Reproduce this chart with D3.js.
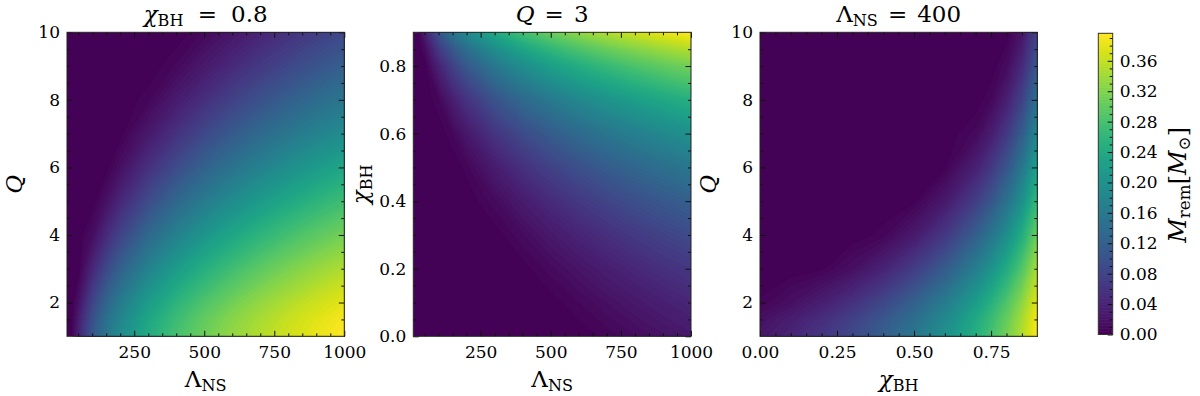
<!DOCTYPE html>
<html>
<head>
<meta charset="utf-8">
<script src="https://cdn.jsdelivr.net/npm/d3@7/dist/d3.min.js"></script>
<style>
html,body{margin:0;padding:0;background:#fff;}
svg{display:block;}
text{font-family:"DejaVu Serif",serif;fill:#000;white-space:pre;}
</style>
</head>
<body>
<svg id="chart" width="1200" height="396"></svg>
<script>
// ================= DATA =================
// grid coordinates
const lambdaGrid = [10, 25, 50, 100, 150, 200, 300, 400, 500, 600, 700, 800, 900, 1000];
const qGrid = [1, 1.5, 2, 3, 4, 5, 6, 7, 8, 9, 10];
const chiGridP2 = [0, 0.1, 0.2, 0.3, 0.4, 0.5, 0.6, 0.7, 0.8, 0.85, 0.9];
const chiGridP3 = [0, 0.1, 0.2, 0.3, 0.4, 0.5, 0.6, 0.7, 0.75, 0.8, 0.85, 0.9];

// Panel 1: chi_BH = 0.8 ; rows = Q (qGrid), columns = Lambda_NS (lambdaGrid)
const mremChi08 = [
  [0, 0.0006, 0.0427, 0.1189, 0.1713, 0.2107, 0.2674, 0.3084, 0.3402, 0.3660, 0.3876, 0.4063, 0.4227, 0.4372],
  [0, 0, 0.0349, 0.1090, 0.1615, 0.2009, 0.2585, 0.2999, 0.3323, 0.3585, 0.3806, 0.3998, 0.4165, 0.4314],
  [0, 0, 0.0211, 0.0902, 0.1420, 0.1817, 0.2402, 0.2828, 0.3162, 0.3434, 0.3664, 0.3862, 0.4037, 0.4192],
  [0, 0, 0.0008, 0.0488, 0.0963, 0.1352, 0.1945, 0.2391, 0.2743, 0.3034, 0.3281, 0.3496, 0.3686, 0.3854],
  [0, 0, 0, 0.0156, 0.0536, 0.0889, 0.1466, 0.1913, 0.2278, 0.2580, 0.2841, 0.3069, 0.3270, 0.3451],
  [0, 0, 0, 0, 0.0202, 0.0486, 0.1010, 0.1445, 0.1807, 0.2114, 0.2382, 0.2616, 0.2827, 0.3017],
  [0, 0, 0, 0, 0.0015, 0.0180, 0.0610, 0.1008, 0.1356, 0.1658, 0.1925, 0.2163, 0.2378, 0.2572],
  [0, 0, 0, 0, 0, 0.0012, 0.0288, 0.0626, 0.0943, 0.1231, 0.1489, 0.1722, 0.1936, 0.2132],
  [0, 0, 0, 0, 0, 0, 0.0072, 0.0317, 0.0587, 0.0846, 0.1088, 0.1311, 0.1518, 0.1709],
  [0, 0, 0, 0, 0, 0, 0, 0.0098, 0.0298, 0.0516, 0.0733, 0.0937, 0.1132, 0.1315],
  [0, 0, 0, 0, 0, 0, 0, 0, 0.0094, 0.0253, 0.0432, 0.0612, 0.0787, 0.0956]
];

// Panel 2: Q = 3 ; rows = chi_BH (chiGridP2), columns = Lambda_NS (lambdaGrid)
const mremQ3 = [
  [0, 0, 0, 0, 0, 0, 0, 0, 0, 0.0010, 0.0066, 0.0142, 0.0228, 0.0318],
  [0, 0, 0, 0, 0, 0, 0, 0, 0.0018, 0.0097, 0.0199, 0.0309, 0.0420, 0.0527],
  [0, 0, 0, 0, 0, 0, 0, 0.0020, 0.0125, 0.0259, 0.0398, 0.0535, 0.0665, 0.0789],
  [0, 0, 0, 0, 0, 0, 0.0009, 0.0141, 0.0317, 0.0492, 0.0662, 0.0820, 0.0968, 0.1107],
  [0, 0, 0, 0, 0, 0, 0.0131, 0.0360, 0.0590, 0.0800, 0.0995, 0.1173, 0.1335, 0.1484],
  [0, 0, 0, 0, 0, 0.0071, 0.0372, 0.0677, 0.0949, 0.1191, 0.1406, 0.1597, 0.1771, 0.1929],
  [0, 0, 0, 0, 0.0099, 0.0313, 0.0738, 0.1102, 0.1411, 0.1674, 0.1904, 0.2108, 0.2291, 0.2455],
  [0, 0, 0, 0.0093, 0.0413, 0.0726, 0.1248, 0.1658, 0.1993, 0.2274, 0.2515, 0.2726, 0.2914, 0.3083],
  [0, 0, 0.0008, 0.0488, 0.0963, 0.1352, 0.1945, 0.2391, 0.2743, 0.3034, 0.3281, 0.3496, 0.3686, 0.3854],
  [0, 0, 0.0142, 0.0822, 0.1360, 0.1778, 0.2399, 0.2855, 0.3212, 0.3504, 0.3753, 0.3967, 0.4155, 0.4323],
  [0, 0.0001, 0.0443, 0.1289, 0.1878, 0.2320, 0.2960, 0.3423, 0.3782, 0.4074, 0.4320, 0.4530, 0.4716, 0.4880]
];

// Panel 3: Lambda_NS = 400 ; rows = Q (qGrid), columns = chi_BH (chiGridP3)
const mremLambda400 = [
  [0.0242, 0.0411, 0.0623, 0.0880, 0.1187, 0.1549, 0.1977, 0.2490, 0.2787, 0.3121, 0.3503, 0.3962],
  [0.0163, 0.0317, 0.0516, 0.0766, 0.1070, 0.1433, 0.1866, 0.2389, 0.2692, 0.3036, 0.3432, 0.3905],
  [0.0047, 0.0157, 0.0329, 0.0558, 0.0849, 0.1210, 0.1649, 0.2187, 0.2506, 0.2866, 0.3284, 0.3786],
  [0, 0, 0.0028, 0.0158, 0.0384, 0.0707, 0.1136, 0.1695, 0.2037, 0.2430, 0.2895, 0.3464],
  [0, 0, 0, 0, 0.0060, 0.0278, 0.0649, 0.1192, 0.1540, 0.1953, 0.2456, 0.3084],
  [0, 0, 0, 0, 0, 0.0026, 0.0262, 0.0733, 0.1068, 0.1484, 0.2007, 0.2676],
  [0, 0, 0, 0, 0, 0, 0.0030, 0.0358, 0.0650, 0.1046, 0.1568, 0.2265],
  [0, 0, 0, 0, 0, 0, 0, 0.0096, 0.0316, 0.0659, 0.1157, 0.1860],
  [0, 0, 0, 0, 0, 0, 0, 0, 0.0084, 0.0345, 0.0788, 0.1473],
  [0, 0, 0, 0, 0, 0, 0, 0, 0, 0.0116, 0.0476, 0.1115],
  [0, 0, 0, 0, 0, 0, 0, 0, 0, 0.0003, 0.0227, 0.0792]
];

// tick labels
const lambdaTicks = [250, 500, 750, 1000];
const qTicks = [2, 4, 6, 8, 10];
const chiTicksP2 = [0, 0.2, 0.4, 0.6, 0.8];
const chiTicksP3 = [0, 0.25, 0.5, 0.75];
const cbarTicks = [0, 0.04, 0.08, 0.12, 0.16, 0.20, 0.24, 0.28, 0.32, 0.36];

// ================= LAYOUT =================
const TOP = 32.3, BOTTOM = 336.3;
const FONT = '"DejaVu Serif", serif';
const svg = d3.select("#chart");
svg.append("rect").attr("width", 1200).attr("height", 396).attr("fill", "#fff");

const panels = [
  { x0: 67, x1: 344.3, xs: lambdaGrid, ys: qGrid, z: mremChi08,
    xDomain: [10, 1000], yDomain: [1, 10],
    xMajor: lambdaTicks, xMinorStep: 50, xFmt: d3.format("d"),
    yMajor: qTicks, yMinorStep: 0.5, yFmt: d3.format("d"),
    title: [{t: "χ", it: 1}, {t: "BH", sub: 1}, {t: "=", gap: 1}, {t: "0.8", gap: 1}], titleW: 124,
    xlabel: [{t: "Λ"}, {t: "NS", sub: 1}],
    ylabel: [{t: "Q", it: 1}], ylabelX: 22 },
  { x0: 413.3, x1: 691, xs: lambdaGrid, ys: chiGridP2, z: mremQ3,
    xDomain: [10, 1000], yDomain: [0, 0.9],
    xMajor: lambdaTicks, xMinorStep: 50, xFmt: d3.format("d"),
    yMajor: chiTicksP2, yMinorStep: 0.05, yFmt: d3.format(".1f"),
    title: [{t: "Q", it: 1}, {t: "=", gap: 1}, {t: "3", gap: 1}], titleW: 73,
    xlabel: [{t: "Λ"}, {t: "NS", sub: 1}],
    ylabel: [{t: "χ", it: 1}, {t: "BH", sub: 1}], ylabelX: 368 },
  { x0: 760, x1: 1037.3, xs: chiGridP3, ys: qGrid, z: mremLambda400,
    xDomain: [0, 0.9], yDomain: [1, 10],
    xMajor: chiTicksP3, xMinorStep: 0.05, xFmt: d3.format(".2f"),
    yMajor: qTicks, yMinorStep: 0.5, yFmt: d3.format("d"),
    title: [{t: "Λ"}, {t: "NS", sub: 1}, {t: "=", gap: 1}, {t: "400", gap: 1}], titleW: 125,
    xlabel: [{t: "χ", it: 1}, {t: "BH", sub: 1}],
    ylabel: [{t: "Q", it: 1}], ylabelX: 716 }
];

function mathText(g, parts, size, targetW) {
  const t = g.append("text").style("font-size", size + "px").style("font-family", FONT);
  let shift = 0;
  const gapSpans = [];
  parts.forEach(p => {
    const s = t.append("tspan").text(p.t);
    const target = p.sub ? size * 0.18 : 0;
    if (target !== shift) { s.attr("dy", target - shift); shift = target; }
    s.style("font-size", (p.sub ? size * 0.7 : size) + "px");
    if (p.it) s.style("font-style", "italic");
    if (p.gap) gapSpans.push(s);
  });
  if (targetW && gapSpans.length) {
    const w = t.node().getComputedTextLength();
    const extra = Math.max(0, (targetW - w) / gapSpans.length);
    gapSpans.forEach(s => s.attr("dx", extra));
  }
  return t;
}

function minors(domain, step, majors) {
  const out = [];
  const start = Math.ceil(domain[0] / step - 1e-9);
  const end = Math.floor(domain[1] / step + 1e-9);
  for (let k = start; k <= end; k++) {
    const v = +(k * step).toFixed(6);
    if (v <= domain[0] + 1e-9 || v >= domain[1] - 1e-9) continue;
    if (majors.some(m => Math.abs(m - v) < 1e-9)) continue;
    out.push(v);
  }
  return out;
}

function styleAxis(sel) {
  sel.attr("color", "#111").attr("font-family", null).attr("font-size", null);
  sel.select(".domain").remove();
  sel.selectAll("text").style("font-family", FONT).style("font-size", "17px").attr("fill", "#000");
  sel.selectAll("line").attr("stroke-width", 1);
}

panels.forEach((p, pi) => {
  const g = svg.append("g");
  const nx = p.xs.length, ny = p.ys.length;
  const values = p.z.flat();
  const zmax = d3.max(values);
  const nLev = 100;
  const levels = d3.range(nLev + 1).map(i => zmax * i / nLev);

  const xScale = d3.scaleLinear().domain(p.xDomain).range([p.x0, p.x1]);
  const yScale = d3.scaleLinear().domain(p.yDomain).range([BOTTOM, TOP]);
  const ix = d3.scaleLinear().domain(d3.range(nx)).range(p.xs).clamp(true);
  const iy = d3.scaleLinear().domain(d3.range(ny)).range(p.ys).clamp(true);
  const proj = d3.geoTransform({
    point: function (x, y) { this.stream.point(xScale(ix(x - 0.5)), yScale(iy(y - 0.5))); }
  });
  const path = d3.geoPath(proj);
  const color = d3.scaleSequential(d3.interpolateViridis).domain([0, zmax]);

  const contours = d3.contours().size([nx, ny]).thresholds(levels.slice(0, -1))(values);

  const clipId = "clip" + pi;
  svg.append("clipPath").attr("id", clipId).append("rect")
    .attr("x", p.x0).attr("y", TOP).attr("width", p.x1 - p.x0).attr("height", BOTTOM - TOP);

  g.append("g").attr("clip-path", `url(#${clipId})`)
    .selectAll("path").data(contours).join("path")
    .attr("d", path)
    .attr("fill", (d, i) => color((levels[i] + levels[i + 1]) / 2))
    .attr("stroke", (d, i) => color((levels[i] + levels[i + 1]) / 2))
    .attr("stroke-width", 0.3);

  // axes: major & minor ticks, inward on all four sides
  const xMin = minors(p.xDomain, p.xMinorStep, p.xMajor);
  const yMin = minors(p.yDomain, p.yMinorStep, p.yMajor);
  const MAJ = -5.5, MIN = -3;

  g.append("g").attr("transform", `translate(0,${BOTTOM})`)
    .call(d3.axisBottom(xScale).tickValues(p.xMajor).tickFormat(p.xFmt).tickSize(MAJ).tickPadding(10)).call(styleAxis);
  g.append("g").attr("transform", `translate(0,${BOTTOM})`)
    .call(d3.axisBottom(xScale).tickValues(xMin).tickFormat("").tickSize(MIN)).call(styleAxis);
  g.append("g").attr("transform", `translate(0,${TOP})`)
    .call(d3.axisTop(xScale).tickValues(p.xMajor).tickFormat("").tickSize(MAJ)).call(styleAxis);
  g.append("g").attr("transform", `translate(0,${TOP})`)
    .call(d3.axisTop(xScale).tickValues(xMin).tickFormat("").tickSize(MIN)).call(styleAxis);

  g.append("g").attr("transform", `translate(${p.x0},0)`)
    .call(d3.axisLeft(yScale).tickValues(p.yMajor).tickFormat(p.yFmt).tickSize(MAJ).tickPadding(7)).call(styleAxis);
  g.append("g").attr("transform", `translate(${p.x0},0)`)
    .call(d3.axisLeft(yScale).tickValues(yMin).tickFormat("").tickSize(MIN)).call(styleAxis);
  g.append("g").attr("transform", `translate(${p.x1},0)`)
    .call(d3.axisRight(yScale).tickValues(p.yMajor).tickFormat("").tickSize(MAJ)).call(styleAxis);
  g.append("g").attr("transform", `translate(${p.x1},0)`)
    .call(d3.axisRight(yScale).tickValues(yMin).tickFormat("").tickSize(MIN)).call(styleAxis);

  // frame
  g.append("rect").attr("x", p.x0).attr("y", TOP).attr("width", p.x1 - p.x0).attr("height", BOTTOM - TOP)
    .attr("fill", "none").attr("stroke", "#222").attr("stroke-width", 1);

  const cx = (p.x0 + p.x1) / 2;
  mathText(g, p.title, 23, p.titleW).attr("x", cx).attr("y", 22).attr("text-anchor", "middle");
  mathText(g, p.xlabel, 23).attr("x", cx).attr("y", 387).attr("text-anchor", "middle");
  mathText(g, p.ylabel, 23).attr("text-anchor", "middle")
    .attr("transform", `translate(${p.ylabelX},${(TOP + BOTTOM) / 2}) rotate(-90)`);
});

// ================= COLORBAR =================
(function () {
  const cb = { x0: 1098.3, x1: 1112.7, top: 33.3, bottom: 334.5 };
  const zmax = d3.max(mremLambda400.flat());
  const nLev = 100;
  const levels = d3.range(nLev + 1).map(i => zmax * i / nLev);
  const yS = d3.scaleLinear().domain([0, zmax]).range([cb.bottom, cb.top]);
  const color = d3.scaleSequential(d3.interpolateViridis).domain([0, zmax]);
  const g = svg.append("g");
  g.selectAll("rect.band").data(levels.slice(0, -1)).join("rect").attr("class", "band")
    .attr("x", cb.x0).attr("width", cb.x1 - cb.x0)
    .attr("y", (d, i) => yS(levels[i + 1]) - 0.3)
    .attr("height", (d, i) => yS(levels[i]) - yS(levels[i + 1]) + 0.6)
    .attr("fill", (d, i) => color((levels[i] + levels[i + 1]) / 2));
  const cMin = minors([0, zmax], 0.01, cbarTicks).filter(v => v > 0);
  g.append("g").attr("transform", `translate(${cb.x1},0)`)
    .call(d3.axisRight(yS).tickValues(cbarTicks).tickFormat(d3.format(".2f")).tickSize(-5).tickPadding(7)).call(styleAxis);
  g.append("g").attr("transform", `translate(${cb.x1},0)`)
    .call(d3.axisRight(yS).tickValues(cMin).tickFormat("").tickSize(-3)).call(styleAxis);
  g.append("rect").attr("x", cb.x0).attr("y", cb.top).attr("width", cb.x1 - cb.x0).attr("height", cb.bottom - cb.top)
    .attr("fill", "none").attr("stroke", "#333").attr("stroke-width", 1);
  mathText(g, [{t: "M", it: 1}, {t: "rem", sub: 1}, {t: "["}, {t: "M", it: 1}, {t: "⊙", sub: 1}, {t: "]"}], 24)
    .attr("text-anchor", "middle")
    .attr("transform", `translate(1186,${(cb.top + cb.bottom) / 2 + 1}) rotate(-90)`);
})();
</script>
</body>
</html>
